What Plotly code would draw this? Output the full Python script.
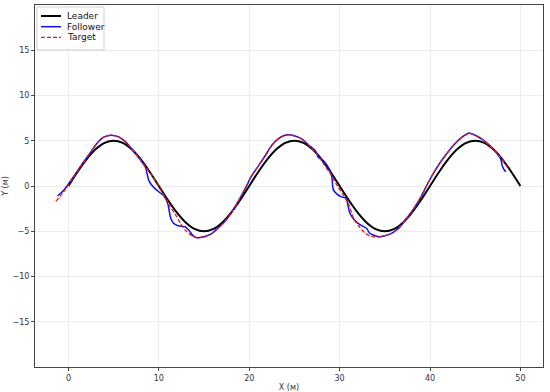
import plotly.graph_objects as go

# ── Datos ───────────────────────────────────────────────────────
leader_x = list(range(0, 51))
leader_y = [
    0, 1.55, 2.94, 4.05, 4.76, 5.0, 4.76, 4.05, 2.94, 1.55,
    0, -1.55, -2.94, -4.05, -4.76, -5.0, -4.76, -4.05, -2.94, -1.55,
    0, 1.55, 2.94, 4.05, 4.76, 5.0, 4.76, 4.05, 2.94, 1.55,
    0, -1.55, -2.94, -4.05, -4.76, -5.0, -4.76, -4.05, -2.94, -1.55,
    0, 1.55, 2.94, 4.05, 4.76, 5.0, 4.76, 4.05, 2.94, 1.55,
    0,
]

target_x = [
    -1.4, -0.5, 0.5, 1.5, 2.5, 3.3, 4.0, 4.7, 5.5, 6.3, 7.0, 7.8, 8.6, 9.3,
    10.0, 10.6, 11.2, 11.8, 12.4, 13.0, 13.6, 14.2, 15.0, 15.8, 16.6, 17.4,
    18.2, 19.0, 19.6, 20.2, 21.0, 21.8, 22.5, 23.2, 23.8, 24.3, 25.0, 25.8,
    26.6, 27.4, 28.2, 29.0, 29.7, 30.4, 31.0, 31.6, 32.2, 32.8, 33.5, 34.3,
    35.0, 35.8, 36.6, 37.4, 38.2, 39.0, 39.6, 40.2, 41.0, 41.8, 42.6, 43.3,
    44.0, 44.4, 45.2, 46.0, 46.9, 47.6, 48.1, 48.6,
]
target_y = [
    -1.7, -0.6, 0.9, 2.4, 3.8, 4.9, 5.45, 5.62, 5.45, 4.9, 4.1, 3.1, 2.0, 1.1,
    -0.1, -1.1, -2.2, -3.1, -4.1, -4.95, -5.45, -5.68, -5.6, -5.3, -4.6, -3.8,
    -2.7, -1.3, -0.2, 1.0, 2.2, 3.4, 4.5, 5.2, 5.55, 5.65, 5.55, 5.2,
    4.5, 3.6, 2.5, 1.3, 0.1, -1.0, -2.0, -3.7, -4.5, -5.2, -5.55, -5.65,
    -5.5, -5.2, -4.6, -3.6, -2.5, -1.2, 0.0, 1.1, 2.4, 3.5, 4.5, 5.2,
    5.65, 5.8, 5.55, 5.0, 4.15, 3.4, 2.8, 2.0,
]

follower_x = [
    -1.2, -0.5, 0.5, 1.5, 2.5, 3.3, 4.0, 4.7, 5.5, 6.3, 7.0, 7.8, 8.5, 8.9,
    9.3, 9.7, 10.2, 10.6, 11.0, 11.3, 11.6, 12.0, 12.5, 12.9, 13.3, 13.7,
    14.1, 14.6, 15.2, 15.8, 16.6, 17.4, 18.2, 19.0, 19.6, 20.2, 21.0, 21.8,
    22.5, 23.2, 23.8, 24.3, 25.0, 25.8, 26.6, 27.3, 27.7, 28.1, 28.6, 29.1,
    29.3, 29.7, 30.2, 30.7, 31.1, 31.5, 32.0, 32.5, 33.0, 33.3, 33.8, 34.3,
    35.0, 35.8, 36.6, 37.4, 38.2, 39.0, 39.6, 40.2, 41.0, 41.8, 42.6, 43.3,
    43.9, 44.3, 45.2, 46.0, 46.9, 47.5, 47.85, 48.0, 48.2, 48.4,
]
follower_y = [
    -1.1, -0.45, 0.95, 2.4, 3.8, 4.9, 5.45, 5.62, 5.45, 4.9, 4.1, 3.1, 2.1, 0.6,
    0.0, -0.4, -0.8, -1.15, -2.0, -3.5, -4.1, -4.35, -4.45, -4.5, -4.85, -5.4,
    -5.7, -5.7, -5.55, -5.3, -4.6, -3.8, -2.7, -1.3, -0.2, 1.0, 2.2, 3.4,
    4.5, 5.2, 5.55, 5.65, 5.55, 5.2, 4.5, 3.9, 3.1, 2.9, 2.3, 1.3,
    -0.4, -0.9, -1.2, -1.35, -2.9, -3.6, -4.1, -4.4, -4.7, -5.2, -5.45, -5.6,
    -5.5, -5.2, -4.6, -3.6, -2.5, -1.2, 0.0, 1.1, 2.4, 3.5, 4.5, 5.2,
    5.65, 5.85, 5.5, 5.0, 4.2, 3.5, 2.9, 2.2, 1.8, 1.58,
]

x_ticks = [0, 10, 20, 30, 40, 50]
y_ticks = [-15, -10, -5, 0, 5, 10, 15]

# ── Estilos ─────────────────────────────────────────────────────
SERIES = [
    ("Leader", leader_x, leader_y, dict(color="black", width=2, shape="spline")),
    ("Follower", follower_x, follower_y,
     dict(color="#1010ee", width=1.5, shape="spline", smoothing=0.8)),
    ("Target", target_x, target_y,
     dict(color="#dd2020", width=1.3, dash="4px,2px", shape="spline", smoothing=0.8)),
]

fig = go.Figure()
for name, xs, ys, line in SERIES:
    fig.add_trace(go.Scatter(x=xs, y=ys, name=name, mode="lines", line=line,
                             showlegend=False))

# Leyenda compacta al estilo matplotlib (paper coords en px)
W, H = 550, 392
L, R, T, B = 35, 7, 5, 25
pw, ph = W - L - R, H - T - B


def px_to_paper(px, py):
    return (px - L) / pw, 1 - (py - T) / ph


x0, y0 = px_to_paper(37, 7)
x1, y1 = px_to_paper(104, 50)
fig.add_shape(type="rect", xref="paper", yref="paper", x0=x0, y0=y0, x1=x1, y1=y1,
              line=dict(color="#d0d0d0", width=1), fillcolor="rgba(255,255,255,0.9)",
              layer="above")
for i, (name, _, _, line) in enumerate(SERIES):
    yy = 16 + i * 10.7
    lx0, ly = px_to_paper(41, yy)
    lx1, _ = px_to_paper(61, yy)
    fig.add_shape(type="line", xref="paper", yref="paper", x0=lx0, x1=lx1, y0=ly, y1=ly,
                  line=dict(color=line["color"], width=line["width"],
                            dash=line.get("dash", "solid")),
                  layer="above")
    tx, _ = px_to_paper(65, yy)
    fig.add_annotation(x=tx, y=ly, xref="paper", yref="paper", text=name,
                       showarrow=False, xanchor="left", yanchor="middle",
                       font=dict(size=9, color="#111"))

axis_common = dict(
    showgrid=True,
    gridcolor="#ececec",
    gridwidth=1,
    zeroline=False,
    showline=True,
    linecolor="#444",
    linewidth=1,
    mirror=True,
    ticks="outside",
    ticklen=3,
    tickcolor="#444",
    tickfont=dict(size=8, color="#333"),
    automargin=False,
)

fig.update_layout(
    width=W,
    height=H,
    paper_bgcolor="white",
    plot_bgcolor="white",
    font=dict(family="DejaVu Sans", size=8, color="#333"),
    margin=dict(l=L, r=R, t=T, b=B),
    xaxis=dict(
        range=[-3.7, 52.5], tickvals=x_ticks,
        title=dict(text="X (м)", standoff=2, font=dict(size=8)),
        **axis_common,
    ),
    yaxis=dict(
        range=[-20, 20], tickvals=y_ticks,
        title=dict(text="Y (м)", standoff=2, font=dict(size=8)),
        **axis_common,
    ),
    showlegend=False,
)

# quitar el margen por defecto del <body> para que la figura ocupe la ventana
fig.write_html(
    "out.html",
    config={"displayModeBar": False},
    post_script="document.body.style.margin='0';",
)
